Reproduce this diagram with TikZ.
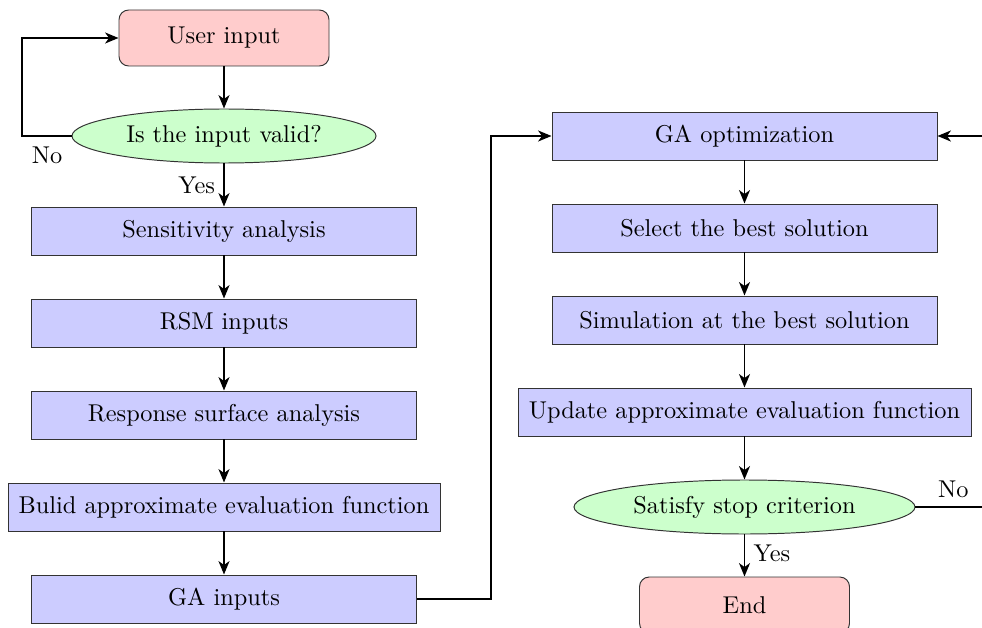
\documentclass[tikz,border=0pt]{standalone}
\usetikzlibrary{shapes.geometric,arrows.meta}
\begin{document}
\begin{tikzpicture}[x=0.411pt,y=-0.411pt,
  every node/.style={font=\fontsize{10}{12}\selectfont},
  term/.style={rectangle,rounded corners=4pt,draw=black!80,fill=red!20,minimum width={210*0.411pt},minimum height={56*0.411pt},inner sep=0pt},
  proc/.style={rectangle,draw=black!80,fill=blue!20,minimum width={385*0.411pt},minimum height={48*0.411pt},inner sep=0pt},
  decis/.style={ellipse,draw=black!80,fill=green!20,minimum height={54*0.411pt},inner sep=0pt},
  conn/.style={draw,line width=0.8pt,-{Stealth[length=5.5pt,width=4.5pt,inset=1.6pt]}},
  lab/.style={font=\fontsize{10}{12}\selectfont}]
\useasboundingbox (0,0) rectangle (982,628);
\node[term] (user) at (224,38) {User input};
\node[decis,minimum width={304*0.411pt}] (valid) at (224,136) {Is the input valid?};
\node[proc] (sens) at (224,231) {Sensitivity analysis};
\node[proc] (rsm) at (224,323) {RSM inputs};
\node[proc] (resp) at (224,415) {Response surface analysis};
\node[proc,minimum width={432*0.411pt}] (build) at (224,507) {Bulid approximate evaluation function};
\node[proc] (gain) at (224,599) {GA inputs};
\node[proc] (gaopt) at (744.5,136) {GA optimization};
\node[proc] (sel) at (744.5,228) {Select the best solution};
\node[proc] (sim) at (744.5,320) {Simulation at the best solution};
\node[proc,minimum width={453*0.411pt}] (upd) at (744.5,412) {Update approximate evaluation function};
\node[decis,minimum width={341*0.411pt}] (stop) at (744.5,507) {Satisfy stop criterion};
\node[term] (end) at (744.5,605) {End};
\coordinate (c1) at (22,136);
\coordinate (c2) at (22,38);
\coordinate (c3) at (491,599);
\coordinate (c4) at (491,136);
\coordinate (c5) at (1010,507);
\coordinate (c6) at (1010,136);
\draw[conn] (user) -- (valid);
\draw[conn] (valid) -- node[lab,left,pos=0.5] {Yes} (sens);
\draw[conn] (valid.west) -- (c1) -- (c2) -- (user.west);
\node[lab] (nolab) at (47,155) {No};
\draw[conn] (sens) -- (rsm);
\draw[conn] (rsm) -- (resp);
\draw[conn] (resp) -- (build);
\draw[conn] (build) -- (gain);
\draw[conn] (gain.east) -- (c3) -- (c4) -- (gaopt.west);
\draw[conn] (gaopt) -- (sel);
\draw[conn] (sel) -- (sim);
\draw[conn] (sim) -- (upd);
\draw[conn] (upd) -- (stop);
\draw[conn] (stop) -- node[lab,right,pos=0.45] {Yes} (end);
\draw[conn] (stop.east) -- node[lab,above,pos=0.4] {No} (c5) -- (c6) -- (gaopt.east);
\end{tikzpicture}
\end{document}
